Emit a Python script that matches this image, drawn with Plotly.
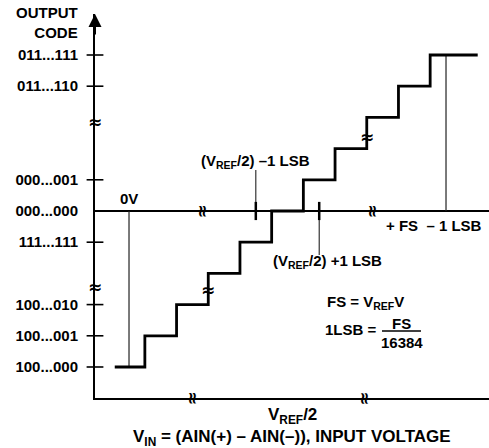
import plotly.graph_objects as go

# ---- data -------------------------------------------------------------
code_labels = ["100...000", "100...001", "100...010", "111...111",
               "000...000", "000...001", "011...110", "011...111"]
code_levels = [-5, -4, -3, -1, 0, 1, 4, 5]

# staircase transfer function (x in LSB from mid-scale, y in code steps)
step_x = [-5.45, -4.5, -3.5, -2.5, -1.5, -0.5, 0.5, 1.5, 2.5, 3.5, 4.5, 6.0]
step_y = [-5, -4, -3, -2, -1, 0, 1, 2, 3, 4, 5, 5]

zero_volt_x = -5          # 0V
fs_minus_lsb_x = 5        # +FS - 1LSB
lsb_marker_x = [-1, 1]    # (VREF/2) -1 LSB , (VREF/2) +1 LSB

# break symbols
axis_break_y = [2.85, -2.44]
stair_break = [(-2.5, -2.53), (2.5, 2.37)]
zero_break_x = [-2.67, 2.70]
bottom_break_x = [-2.98, 2.44]

XMIN, XMAX = -6.073, 6.356
YMIN, YMAX = -5.994, 6.314

FONT = "Liberation Sans, Arial, Helvetica, sans-serif"
BLACK = "#000000"

fig = go.Figure()

# 0V and FS-1LSB guide lines
fig.add_trace(go.Scatter(x=[zero_volt_x, zero_volt_x], y=[0, step_y[0]],
                         mode="lines", line=dict(color="#222", width=1.2),
                         hoverinfo="skip"))
fig.add_trace(go.Scatter(x=[fs_minus_lsb_x, fs_minus_lsb_x], y=[0, step_y[-1]],
                         mode="lines", line=dict(color="#222", width=1.2),
                         hoverinfo="skip"))

# leader lines for +/-1 LSB labels
fig.add_trace(go.Scatter(x=[lsb_marker_x[0]] * 2, y=[1.31, 0.2],
                         mode="lines", line=dict(color="#222", width=1.1),
                         hoverinfo="skip"))
fig.add_trace(go.Scatter(x=[lsb_marker_x[1]] * 2, y=[-0.22, -1.41],
                         mode="lines", line=dict(color="#222", width=1.1),
                         hoverinfo="skip"))

# staircase
fig.add_trace(go.Scatter(x=step_x, y=step_y, mode="lines",
                         line=dict(color=BLACK, width=2.8, shape="hv"),
                         hoverinfo="skip"))

# y-axis cross ticks
tick_levels = [v for v in code_levels if v != 0]
fig.add_trace(go.Scatter(x=[XMIN] * len(tick_levels), y=tick_levels,
                         mode="markers", cliponaxis=False,
                         marker=dict(symbol="line-ew", size=12,
                                     line=dict(color=BLACK, width=1.6)),
                         hoverinfo="skip"))

# +/-1 LSB tick marks on zero axis
fig.add_trace(go.Scatter(x=lsb_marker_x, y=[0, 0], mode="markers",
                         marker=dict(symbol="line-ns", size=13,
                                     line=dict(color=BLACK, width=2.5)),
                         hoverinfo="skip"))

annotations = []


def txt(text, x, y, xanchor="center", yanchor="middle", size=15, **kw):
    d = dict(text=text, x=x, y=y, xanchor=xanchor, yanchor=yanchor,
             showarrow=False, font=dict(family=FONT, size=size, color=BLACK,
                                        weight="bold"))
    d.update(kw)
    annotations.append(d)


# axis title
txt("OUTPUT<br>CODE", 0, 1, xref="paper", yref="paper", xanchor="right",
    align="right", xshift=-15, yshift=-8)

# top arrow on y axis
annotations.append(dict(x=0, y=1, xref="paper", yref="paper", ax=0, ay=22,
                        text="", showarrow=True, arrowhead=2, arrowsize=1.3,
                        arrowwidth=2, arrowcolor=BLACK))

txt("0V", zero_volt_x, 0, yanchor="bottom", yshift=2)
txt("(V<sub>REF</sub>/2) –1 LSB", lsb_marker_x[0], 1.6)
txt("(V<sub>REF</sub>/2) +1 LSB", -0.52, -1.63, xanchor="left")
txt("+ FS  – 1 LSB", 6.2, -0.45, xanchor="right")
txt("FS = V<sub>REF</sub>V", 1.18, -2.92, xanchor="left")
txt("1LSB =", 1.12, -3.81, xanchor="left")
txt("FS", 3.6, -3.59)
txt("16384", 3.6, -4.21)
txt("V<sub>REF</sub>/2", 0.5, 0, xref="paper", yref="paper", yshift=-18,
    size=17)
txt("V<sub>IN</sub> = (AIN(+) – AIN(–)), INPUT VOLTAGE", 0.5, 0,
    xref="paper", yref="paper", yshift=-40, size=17)

# break symbols
BFONT = dict(family="DejaVu Sans", size=17, color=BLACK)
for yb in axis_break_y:
    txt("≈", XMIN, yb, font=BFONT)
for xb, yb in stair_break:
    txt("≈", xb, yb, font=BFONT)
for xb in zero_break_x:
    txt("≈", xb, 0, textangle=90, font=BFONT)
for xb in bottom_break_x:
    txt("≈", xb, YMIN, textangle=90, font=BFONT)

shapes = [dict(type="line", x0=2.98, x1=4.21, y0=-3.85, y1=-3.85,
               line=dict(color=BLACK, width=1.5))]

fig.update_layout(
    width=489, height=448,
    margin=dict(l=95, r=0, t=14, b=50),
    paper_bgcolor="white", plot_bgcolor="white",
    showlegend=False,
    font=dict(family=FONT, size=15, color=BLACK, weight="bold"),
    annotations=annotations,
    shapes=shapes,
    xaxis=dict(range=[XMIN, XMAX], showline=True, linecolor=BLACK,
               linewidth=2, showgrid=False, zeroline=False,
               showticklabels=False, ticks=""),
    yaxis=dict(range=[YMIN, YMAX], showline=True, linecolor=BLACK,
               linewidth=2, showgrid=False, zeroline=True,
               zerolinecolor=BLACK, zerolinewidth=2.5,
               tickvals=code_levels, ticktext=code_labels, ticks="",
               ticklabelstandoff=12,
               tickfont=dict(family=FONT, size=15, color=BLACK,
                             weight="bold")),
)

fig.write_html("out.html",
               config={"displayModeBar": False, "staticPlot": True},
               post_script="document.body.style.margin='0';"
                           "document.body.style.overflow='hidden';")
